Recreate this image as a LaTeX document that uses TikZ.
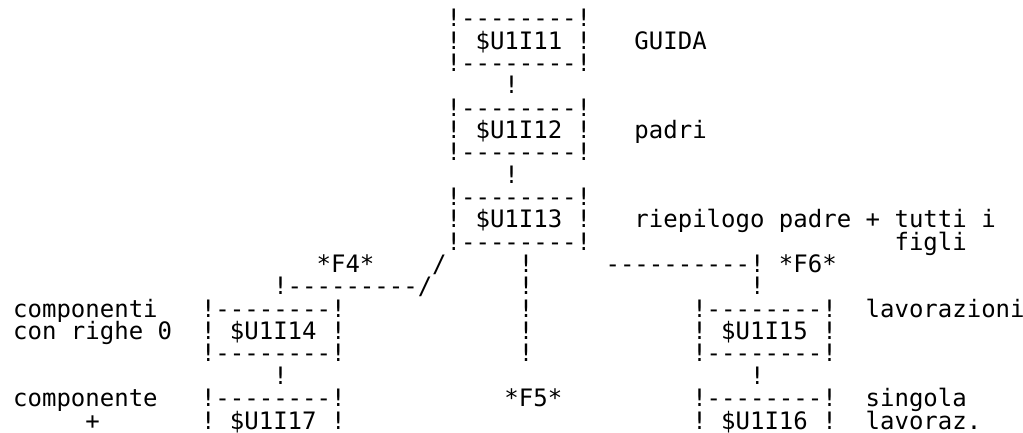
\documentclass[tikz,border=0pt]{standalone}
\usepackage{fontspec}
\setmonofont{DejaVu Sans Mono}
\tikzset{
  txt/.style={anchor=base west, inner sep=0pt, outer sep=0pt, text=black,
    font=\ttfamily\fontsize{12pt}{12pt}\selectfont}
}
\begin{document}
\begin{tikzpicture}[x=7.224pt, y=-11.175pt]
\useasboundingbox (-0.9136,-0.1946) rectangle (69.89,19.134);
% top chain
\node[txt] (b1t) at (30,1) {!--------!};
\node[txt] (b1m) at (30,2) {! \$U1I11 !};
\node[txt] (l1)  at (43,2) {GUIDA};
\node[txt] (b1b) at (30,3) {!--------!};
\node[txt] (v1)  at (34,4) {!};
\node[txt] (b2t) at (30,5) {!--------!};
\node[txt] (b2m) at (30,6) {! \$U1I12 !};
\node[txt] (l2)  at (43,6) {padri};
\node[txt] (b2b) at (30,7) {!--------!};
\node[txt] (v2)  at (34,8) {!};
\node[txt] (b3t) at (30,9) {!--------!};
\node[txt] (b3m) at (30,10) {! \$U1I13 !};
\node[txt] (l3)  at (43,10) {riepilogo padre + tutti i};
\node[txt] (b3b) at (30,11) {!--------!};
\node[txt] (l3b) at (61,11) {figli};
% branches
\node[txt] (f4)  at (21,12) {*F4*};
\node[txt] (s1)  at (29,12) {/};
\node[txt] (c12) at (35,12) {!};
\node[txt] (r12) at (41,12) {----------! *F6*};
\node[txt] (h13) at (18,13) {!---------/};
\node[txt] (c13) at (35,13) {!};
\node[txt] (r13) at (51,13) {!};
% row 14-16
\node[txt] (l4a) at (0,14) {componenti};
\node[txt] (b4t) at (13,14) {!--------!};
\node[txt] (c14) at (35,14) {!};
\node[txt] (b5t) at (47,14) {!--------!};
\node[txt] (l5)  at (59,14) {lavorazioni};
\node[txt] (l4b) at (0,15) {con righe 0};
\node[txt] (b4m) at (13,15) {! \$U1I14 !};
\node[txt] (c15) at (35,15) {!};
\node[txt] (b5m) at (47,15) {! \$U1I15 !};
\node[txt] (b4b) at (13,16) {!--------!};
\node[txt] (c16) at (35,16) {!};
\node[txt] (b5b) at (47,16) {!--------!};
\node[txt] (v4)  at (18,17) {!};
\node[txt] (v5)  at (51,17) {!};
% bottom
\node[txt] (l7a) at (0,18) {componente};
\node[txt] (b7t) at (13,18) {!--------!};
\node[txt] (f5)  at (34,18) {*F5*};
\node[txt] (b6t) at (47,18) {!--------!};
\node[txt] (l6a) at (59,18) {singola};
\node[txt] (l7b) at (5,19) {+};
\node[txt] (b7m) at (13,19) {! \$U1I17 !};
\node[txt] (b6m) at (47,19) {! \$U1I16 !};
\node[txt] (l6b) at (59,19) {lavoraz.};
\end{tikzpicture}
\end{document}
